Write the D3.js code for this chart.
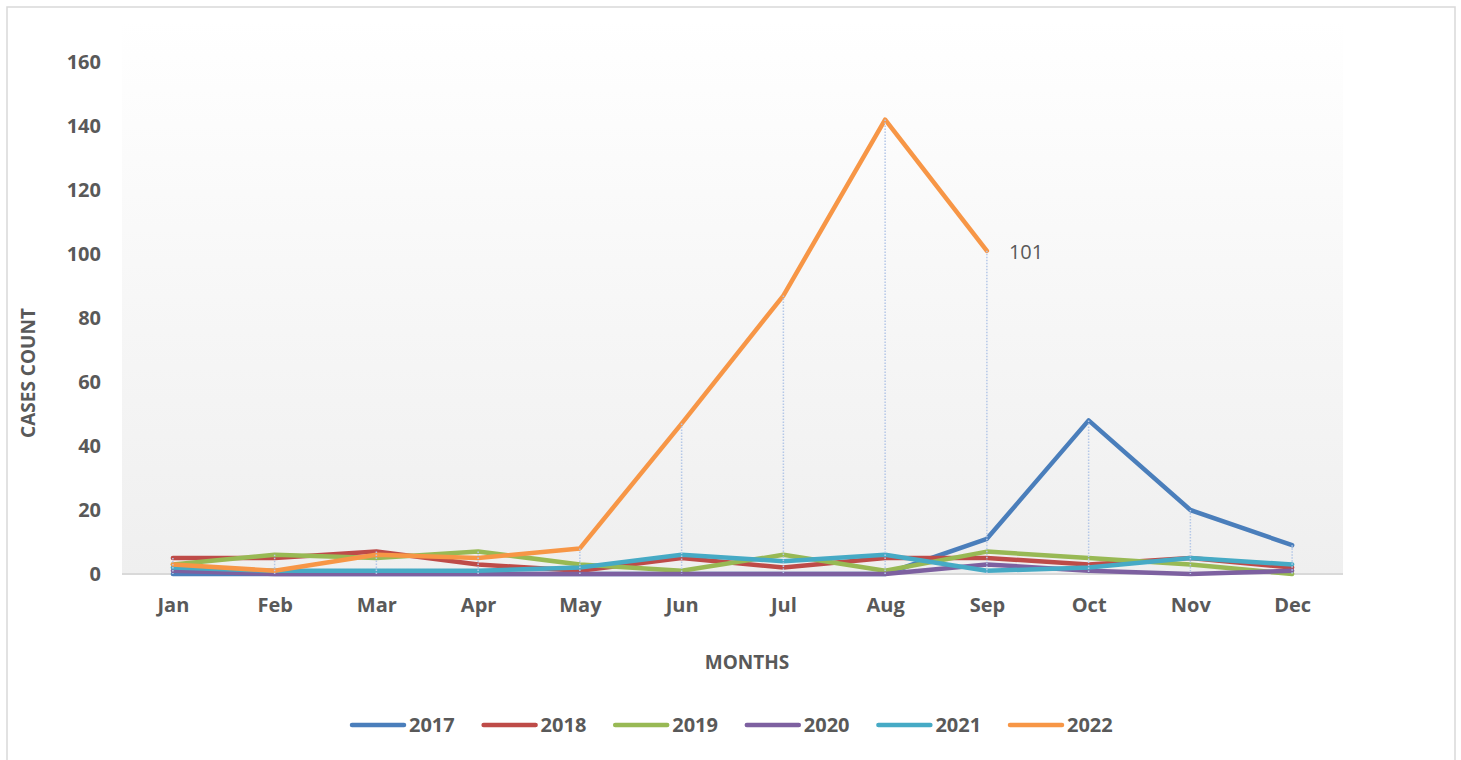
<!DOCTYPE html>
<html>
<head>
<meta charset="utf-8">
<script src="https://cdn.jsdelivr.net/npm/d3@7"></script>
<style>
  body { margin: 0; background: #fff; }
  text { font-family: "Open Sans", "Liberation Sans", sans-serif; }
</style>
</head>
<body>
<script>
// data
var months = ["Jan", "Feb", "Mar", "Apr", "May", "Jun", "Jul", "Aug", "Sep", "Oct", "Nov", "Dec"];
var years = ["2017", "2018", "2019", "2020", "2021", "2022"];
var colors = ["#4a7ebb", "#be4b48", "#98b954", "#7d60a0", "#46aac5", "#f79646"];

var s2017 = [0, 0, 0, 0, 0, 0, 0, 0, 11, 48, 20, 9];
var s2018 = [5, 5, 7, 3, 1, 5, 2, 5, 5, 3, 5, 2];
var s2019 = [3, 6, 5, 7, 3, 1, 6, 1, 7, 5, 3, 0];
var s2020 = [1, 0, 0, 0, 0, 0, 0, 0, 3, 1, 0, 1];
var s2021 = [2, 1, 1, 1, 2, 6, 4, 6, 1, 2, 5, 3];
var s2022 = [3, 1, 6, 5, 8, 47, 87, 142, 101];   // only up to Sep
var yTicks = [0, 20, 40, 60, 80, 100, 120, 140, 160];

var allSeries = [s2017, s2018, s2019, s2020, s2021, s2022];

var w = 1461, h = 760;
var plot = {left: 122, right: 1343, top: 20, bottom: 574};

var svg = d3.select("body").append("svg")
    .attr("width", w)
    .attr("height", h);

// chart frame
svg.append("rect")
    .attr("x", 7).attr("y", 7)
    .attr("width", 1448).attr("height", 780)
    .attr("fill", "#fff")
    .attr("stroke", "#d9d9d9")
    .attr("stroke-width", 1.5);

// plot area gradient
var grad = svg.append("defs").append("linearGradient")
    .attr("id", "bg")
    .attr("x1", 0).attr("y1", 0).attr("x2", 0).attr("y2", 1);
grad.append("stop").attr("offset", "0%").attr("stop-color", "#ffffff");
grad.append("stop").attr("offset", "100%").attr("stop-color", "#efefef");

svg.append("rect")
    .attr("x", plot.left).attr("y", plot.top)
    .attr("width", plot.right - plot.left)
    .attr("height", plot.bottom - plot.top)
    .attr("fill", "url(#bg)");

var xScale = d3.scalePoint()
    .domain(months)
    .range([plot.left, plot.right])
    .padding(0.5);

var yScale = d3.scaleLinear()
    .domain([0, 160])
    .range([574, 62]);

// y axis (labels only)
var yAxis = svg.append("g")
    .attr("transform", "translate(" + 101 + ",0)")
    .call(d3.axisLeft(yScale).tickValues(yTicks).tickSize(0).tickPadding(0));
yAxis.select(".domain").remove();
yAxis.selectAll("text")
    .attr("font-family", "Open Sans, sans-serif")
    .attr("font-size", "20px")
    .attr("font-weight", "bold")
    .attr("fill", "#595959");

// x axis
var xAxis = svg.append("g")
    .attr("transform", "translate(0," + 574 + ")")
    .call(d3.axisBottom(xScale).tickSize(0).tickPadding(24));
xAxis.select(".domain")
    .attr("d", "M" + plot.left + ",0H" + plot.right)
    .attr("stroke", "#d9d9d9")
    .attr("stroke-width", 2);
xAxis.selectAll("text")
    .attr("font-family", "Open Sans, sans-serif")
    .attr("font-size", "20px")
    .attr("font-weight", "bold")
    .attr("fill", "#595959");

// axis titles
svg.append("text")
    .attr("transform", "translate(35,373) rotate(-90)")
    .attr("text-anchor", "middle")
    .attr("font-size", "19px")
    .attr("font-weight", "bold")
    .attr("fill", "#595959")
    .text("CASES COUNT");

svg.append("text")
    .attr("x", 747).attr("y", 669)
    .attr("text-anchor", "middle")
    .attr("font-size", "19px")
    .attr("font-weight", "bold")
    .attr("fill", "#595959")
    .text("MONTHS");

// lines
var line = d3.line()
    .x(function(d, i) { return xScale(months[i]); })
    .y(function(d) { return yScale(d); });

svg.selectAll("path.series")
    .data(allSeries)
    .enter()
    .append("path")
    .attr("class", "series")
    .attr("d", line)
    .attr("fill", "none")
    .attr("stroke", function(d, i) { return colors[i]; })
    .attr("stroke-width", 4.5)
    .attr("stroke-linejoin", "round")
    .attr("stroke-linecap", "round");

// drop lines from highest point at each month
var tops = months.map(function(m, i) {
    return d3.max(allSeries, function(s) { return s[i] === undefined ? 0 : s[i]; });
});
svg.selectAll("line.drop")
    .data(tops)
    .enter()
    .append("line")
    .attr("class", "drop")
    .attr("x1", function(d, i) { return xScale(months[i]); })
    .attr("x2", function(d, i) { return xScale(months[i]); })
    .attr("y1", function(d) { return yScale(d); })
    .attr("y2", yScale(0))
    .attr("stroke", "#b4c7e7")
    .attr("stroke-width", 1.5)
    .attr("stroke-dasharray", "1.5,1.5");

// data label on last 2022 point
svg.append("text")
    .attr("x", xScale("Sep") + 22)
    .attr("y", yScale(101) + 8)
    .attr("font-size", "20px")
    .attr("fill", "#595959")
    .text(s2022[8]);

// legend
var legend = svg.selectAll("g.legend")
    .data(years)
    .enter()
    .append("g")
    .attr("class", "legend")
    .attr("transform", function(d, i) { return "translate(" + (352 + i * 131.6) + ",725)"; });

legend.append("line")
    .attr("x1", 0).attr("x2", 52)
    .attr("y1", 0).attr("y2", 0)
    .attr("stroke", function(d, i) { return colors[i]; })
    .attr("stroke-width", 4.5)
    .attr("stroke-linecap", "round");

legend.append("text")
    .attr("x", 57)
    .attr("y", 7)
    .attr("font-size", "20px")
    .attr("font-weight", "bold")
    .attr("fill", "#595959")
    .text(function(d) { return d; });
</script>
</body>
</html>
